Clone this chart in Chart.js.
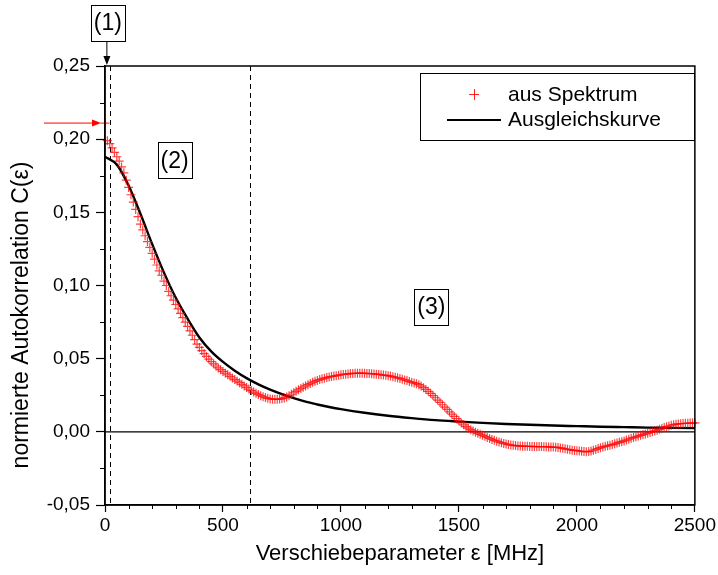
<!DOCTYPE html>
<html>
<head>
<meta charset="utf-8">
<script src="https://cdn.jsdelivr.net/npm/chart.js@4.4.1/dist/chart.umd.min.js"></script>
<style>
  html, body { margin: 0; padding: 0; background: #fff; }
  #wrap { width: 718px; height: 575px; }
</style>
</head>
<body>
<div id="wrap"><canvas id="chart" width="718" height="575"></canvas></div>
<script>
// axis ranges / ticks
const xTicks = [0, 500, 1000, 1500, 2000, 2500];
const yTicks = [-0.05, 0, 0.05, 0.10, 0.15, 0.20, 0.25];

// measured autocorrelation, one value every 10 MHz from 0 to 2500
const spectrumStep = 10;
const spectrumValues = [
  0.211, 0.199, 0.197, 0.194, 0.191, 0.188, 0.185, 0.181, 0.177, 0.172,
  0.167, 0.162, 0.157, 0.152, 0.147, 0.142, 0.138, 0.134, 0.130, 0.126,
  0.122, 0.118, 0.114, 0.110, 0.107, 0.103, 0.100, 0.096, 0.093, 0.090,
  0.087, 0.084, 0.081, 0.078, 0.075, 0.072, 0.069, 0.066, 0.063, 0.060,
  0.0577, 0.0555, 0.0535, 0.0515, 0.0497, 0.0480, 0.0465, 0.0450, 0.0437, 0.0425,
  0.0413, 0.0401, 0.0390, 0.0379, 0.0368, 0.0357, 0.0346, 0.0336, 0.0325, 0.0314,
  0.0303, 0.0292, 0.0282, 0.0272, 0.0263, 0.0255, 0.0247, 0.0240, 0.0234, 0.0229,
  0.0225, 0.0223, 0.0222, 0.0222, 0.0224, 0.0227, 0.0232, 0.0238, 0.0247, 0.0257,
  0.0267, 0.0277, 0.0287, 0.0296, 0.0305, 0.0314, 0.0322, 0.0330, 0.0338, 0.0345,
  0.0351, 0.0357, 0.0362, 0.0367, 0.0371, 0.0375, 0.0378, 0.0381, 0.0384, 0.0387,
  0.0390, 0.0392, 0.0394, 0.0396, 0.0398, 0.0399, 0.0400, 0.0401, 0.0401, 0.0401,
  0.0400, 0.0399, 0.0398, 0.0397, 0.0396, 0.0394, 0.0392, 0.0390, 0.0388, 0.0386,
  0.0384, 0.0381, 0.0377, 0.0373, 0.0369, 0.0365, 0.0360, 0.0355, 0.0350, 0.0344,
  0.0338, 0.0334, 0.0329, 0.0322, 0.0313, 0.0302, 0.0290, 0.0277, 0.0263, 0.0248,
  0.0233, 0.0217, 0.0201, 0.0185, 0.0169, 0.0153, 0.0137, 0.0121, 0.0105, 0.0090,
  0.0075, 0.0061, 0.0048, 0.0036, 0.0025, 0.0015, 0.0006, -0.0002, -0.0010, -0.0017,
  -0.0024, -0.0031, -0.0038, -0.0045, -0.0052, -0.0058, -0.0064, -0.0069, -0.0074, -0.0079,
  -0.0083, -0.0087, -0.0090, -0.0092, -0.0094, -0.0096, -0.0097, -0.0098, -0.0099, -0.0099,
  -0.0100, -0.0100, -0.0101, -0.0101, -0.0101, -0.0101, -0.0102, -0.0102, -0.0103, -0.0104,
  -0.0104, -0.0105, -0.0107, -0.0110, -0.0113, -0.0116, -0.0119, -0.0122, -0.0125, -0.0127,
  -0.0129, -0.0131, -0.0133, -0.0135, -0.0136, -0.0135, -0.0131, -0.0126, -0.0120, -0.0114,
  -0.0108, -0.0103, -0.0099, -0.0095, -0.0091, -0.0087, -0.0082, -0.0077, -0.0072, -0.0067,
  -0.0062, -0.0056, -0.0050, -0.0044, -0.0039, -0.0034, -0.0029, -0.0024, -0.0019, -0.0014,
  -0.0009, -0.0004, 0.0001, 0.0006, 0.0011, 0.0017, 0.0023, 0.0029, 0.0035, 0.0040,
  0.0045, 0.0049, 0.0052, 0.0054, 0.0056, 0.0057, 0.0058, 0.0059, 0.0060, 0.0060,
  0.0061
];

// fit curve
const fitEps = [0, 50, 100, 150, 200, 250, 300, 350, 400, 450, 500, 550, 600, 650, 700, 750,
  800, 850, 900, 950, 1000, 1100, 1200, 1300, 1400, 1500, 1600, 1700, 1800, 1900, 2000,
  2100, 2200, 2300, 2400, 2500];
const fitValues = [0.188, 0.1826, 0.1683, 0.1490, 0.1283, 0.1088, 0.0916, 0.0773, 0.0645, 0.0550,
  0.0478, 0.0418, 0.0367, 0.0324, 0.0288, 0.0257, 0.0230, 0.0206, 0.0187, 0.0170, 0.0155,
  0.0130, 0.0110, 0.0094, 0.0080, 0.0070, 0.0061, 0.0054, 0.0048, 0.0043, 0.0039,
  0.0035, 0.0032, 0.0029, 0.0027, 0.0025];

const regionBounds = [20, 615];
const seriesNames = ['aus Spektrum', 'Ausgleichskurve'];

const spectrumPoints = spectrumValues.map((v, i) => ({ x: i * spectrumStep, y: v }));
const fitPoints = fitEps.map((e, i) => ({ x: e, y: fitValues[i] }));

const FONT = '"Liberation Sans", Arial, sans-serif';

function arrow(ctx, x1, y1, x2, y2, color) {
  const ang = Math.atan2(y2 - y1, x2 - x1);
  ctx.strokeStyle = color;
  ctx.fillStyle = color;
  ctx.lineWidth = 1;
  ctx.beginPath();
  ctx.moveTo(x1, y1);
  ctx.lineTo(x2 - 8 * Math.cos(ang), y2 - 8 * Math.sin(ang));
  ctx.stroke();
  ctx.beginPath();
  ctx.moveTo(x2, y2);
  ctx.lineTo(x2 - 9 * Math.cos(ang) + 3.5 * Math.sin(ang), y2 - 9 * Math.sin(ang) - 3.5 * Math.cos(ang));
  ctx.lineTo(x2 - 9 * Math.cos(ang) - 3.5 * Math.sin(ang), y2 - 9 * Math.sin(ang) + 3.5 * Math.cos(ang));
  ctx.closePath();
  ctx.fill();
}

function labelBox(ctx, text, cx, cy) {
  ctx.strokeStyle = '#000';
  ctx.lineWidth = 1;
  ctx.strokeRect(Math.round(cx - 17) + 0.5, Math.round(cy - 18) + 0.5, 34, 36);
  ctx.fillStyle = '#000';
  ctx.font = '23px ' + FONT;
  ctx.textAlign = 'center';
  ctx.textBaseline = 'middle';
  ctx.fillText(text, cx, cy + 1);
}

const decorations = {
  id: 'decorations',
  beforeDatasetsDraw(chart) {
    const { ctx, chartArea: a, scales: { x, y } } = chart;
    ctx.save();
    // zero line
    ctx.strokeStyle = '#000';
    ctx.lineWidth = 1.2;
    const y0 = y.getPixelForValue(0);
    ctx.beginPath();
    ctx.moveTo(a.left, y0);
    ctx.lineTo(a.right, y0);
    ctx.stroke();
    // dashed region bounds
    ctx.setLineDash([5, 4]);
    ctx.lineWidth = 1;
    regionBounds.forEach(b => {
      const px = Math.round(x.getPixelForValue(b)) + 0.5;
      ctx.beginPath();
      ctx.moveTo(px, a.top);
      ctx.lineTo(px, a.bottom);
      ctx.stroke();
    });
    ctx.restore();
  },
  afterDraw(chart) {
    const { ctx, chartArea: a, scales: { x, y } } = chart;
    ctx.save();
    // frame
    ctx.strokeStyle = '#000';
    ctx.lineWidth = 1.5;
    ctx.strokeRect(a.left, a.top, a.right - a.left, a.bottom - a.top);
    // minor ticks
    ctx.lineWidth = 1;
    for (let v = 100; v < 2500; v += 100) {
      if (v % 500 === 0) continue;
      const px = Math.round(x.getPixelForValue(v)) + 0.5;
      ctx.beginPath();
      ctx.moveTo(px, a.bottom);
      ctx.lineTo(px, a.bottom + 4);
      ctx.stroke();
    }
    for (let i = 0; i < yTicks.length - 1; i++) {
      const v = (yTicks[i] + yTicks[i + 1]) / 2;
      const py = Math.round(y.getPixelForValue(v)) + 0.5;
      ctx.beginPath();
      ctx.moveTo(a.left, py);
      ctx.lineTo(a.left - 5, py);
      ctx.stroke();
    }
    // region labels
    const x1 = x.getPixelForValue(8);
    labelBox(ctx, '(1)', x1 + 1, 23);
    arrow(ctx, x1, 42, x1, 65, '#000');
    labelBox(ctx, '(2)', x.getPixelForValue(295), y.getPixelForValue(0.1856));
    labelBox(ctx, '(3)', x.getPixelForValue(1383), y.getPixelForValue(0.0856));
    // red arrow to first spectrum value
    const ya = y.getPixelForValue(spectrumValues[0]);
    arrow(ctx, 44, ya, a.left - 4, ya, '#ff0000');
    // legend
    ctx.strokeStyle = '#000';
    ctx.lineWidth = 1;
    ctx.strokeRect(420.5, 73.5, 274, 67);
    ctx.strokeStyle = 'rgba(255,0,0,0.85)';
    ctx.beginPath();
    ctx.moveTo(469, 94.5); ctx.lineTo(479, 94.5);
    ctx.moveTo(474.5, 89); ctx.lineTo(474.5, 100);
    ctx.stroke();
    ctx.strokeStyle = '#000';
    ctx.lineWidth = 2;
    ctx.beginPath();
    ctx.moveTo(447, 120); ctx.lineTo(501, 120);
    ctx.stroke();
    ctx.fillStyle = '#000';
    ctx.font = '21px ' + FONT;
    ctx.textAlign = 'left';
    ctx.textBaseline = 'middle';
    ctx.fillText(seriesNames[0], 508, 95);
    ctx.fillText(seriesNames[1], 508, 120);
    // y axis title
    ctx.font = '23px ' + FONT;
    ctx.translate(22, 315);
    ctx.rotate(-Math.PI / 2);
    ctx.textAlign = 'center';
    ctx.fillText('normierte Autokorrelation C(\u03b5)', 0, 0);
    ctx.restore();
  }
};

new Chart(document.getElementById('chart'), {
  type: 'scatter',
  data: {
    datasets: [{
      label: seriesNames[0],
      data: spectrumPoints,
      showLine: false,
      pointStyle: 'cross',
      pointRadius: 4.5,
      pointBorderWidth: 1.2,
      borderColor: 'rgba(255,0,0,0.75)',
      backgroundColor: 'rgba(255,0,0,0.75)',
      clip: 8
    }, {
      label: seriesNames[1],
      data: fitPoints,
      showLine: true,
      pointRadius: 0,
      borderColor: '#000',
      borderWidth: 2.4,
      cubicInterpolationMode: 'monotone'
    }]
  },
  options: {
    responsive: false,
    animation: false,
    devicePixelRatio: 1,
    layout: { padding: { top: 66, right: 20, left: 0, bottom: 0 } },
    plugins: { legend: { display: false }, tooltip: { enabled: false } },
    scales: {
      x: {
        type: 'linear',
        min: 0,
        max: 2500,
        afterBuildTicks: s => { s.ticks = xTicks.map(v => ({ value: v })); },
        afterFit: s => { s.height = 70; },
        ticks: {
          color: '#000',
          font: { family: FONT, size: 19 },
          padding: 2,
          maxRotation: 0,
          callback: v => String(v)
        },
        grid: { drawOnChartArea: false, color: '#000', tickLength: 7, tickWidth: 1.2 },
        border: { color: '#000', width: 1.5 },
        title: {
          display: true,
          text: 'Verschiebeparameter \u03b5 [MHz]',
          color: '#000',
          font: { family: FONT, size: 22 },
          padding: { top: 0, bottom: 8 }
        }
      },
      y: {
        min: -0.05,
        max: 0.25,
        afterBuildTicks: s => { s.ticks = yTicks.map(v => ({ value: v })); },
        afterFit: s => { s.width = 105; },
        ticks: {
          color: '#000',
          font: { family: FONT, size: 19 },
          padding: 6,
          callback: v => v.toFixed(2).replace('.', ',')
        },
        grid: { drawOnChartArea: false, color: '#000', tickLength: 9, tickWidth: 1.2 },
        border: { color: '#000', width: 1.5 }
      }
    }
  },
  plugins: [decorations]
});
</script>
</body>
</html>
